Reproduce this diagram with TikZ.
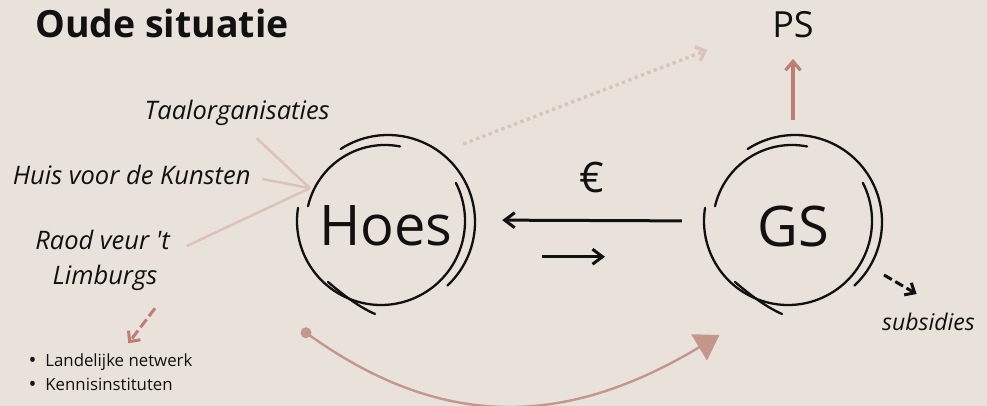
\documentclass[tikz,border=0pt]{standalone}
\usepackage{fontspec}
\setmainfont{Open Sans}
\usetikzlibrary{arrows.meta}
\definecolor{bgc}{HTML}{E9E2DB}
\definecolor{paleline}{HTML}{DCC3BA}
\definecolor{rose}{HTML}{BD7E75}
\definecolor{curvec}{HTML}{C4978D}
\definecolor{ink}{HTML}{111111}
\newcommand{\listdot}{\makebox[16.7pt][l]{\raisebox{-1.2pt}{\fontsize{21}{20}\selectfont •}}}
\tikzset{
  ringline/.style={line width=2.3pt, draw=ink, line cap=round},
  handring/.pic={
    \draw[ringline] ([shift={(123:87pt)}]2,0) arc[start angle=123,end angle=-47,radius=87pt];
    \draw[ringline] ([shift={(27:84pt)}]-5,1) arc[start angle=27,end angle=-189,radius=84pt];
    \draw[ringline] ([shift={(167:79pt)}]-1,-2) arc[start angle=167,end angle=79,radius=79pt];
    \draw[ringline] (-58,-60) .. controls (-45,-71) and (-29,-84) .. (-11,-92);
  },
  bigword/.style={circle, minimum size=166pt, inner sep=0pt, text height=46pt, text depth=0pt,
    font=\fontsize{56}{60}\selectfont, text=ink},
  label/.style={inner sep=0pt, anchor=base, text=ink},
  itlabel/.style={label, font=\itshape\fontsize{25.5}{30}\selectfont},
  feeder/.style={draw=paleline, line width=2.5pt},
  blackarrow/.style={draw=ink, line width=3pt, -{Straight Barb[length=10pt,width=15pt]}},
}
\begin{document}
\begin{tikzpicture}[x=1pt,y=1pt]
  \fill[bgc] (0,0) rectangle (987,-406);
  \useasboundingbox (0,0) rectangle (987,-406);

  % title
  \node[inner sep=0pt, anchor=base west, text=ink, font=\bfseries\fontsize{37.5}{42}\selectfont] (title) at (35,-37.5) {Oude situatie};

  % rings
  \pic at (386,-222) {handring};
  \pic at (793,-222) {handring};
  \node[bigword] (hoes) at (386,-222) {Hoes};
  \node[bigword] (gs) at (793,-223) {GS};

  % left labels
  \node[itlabel] (taal) at (237.2,-120) {Taalorganisaties};
  \node[itlabel] (huis) at (131.7,-185) {Huis voor de Kunsten};
  \node[itlabel] (raod) at (102.5,-249.5) {Raod veur \textquotesingle t};
  \node[itlabel] (limb) at (105,-284.5) {Limburgs};

  \coordinate (t1) at (256.7,-138.3);
  \coordinate (t2) at (262.3,-179);
  \coordinate (t3) at (186.7,-246);
  \draw[feeder] (t1) -- (hoes.156);
  \draw[feeder] (t2) -- (hoes.156);
  \draw[feeder] (t3) -- (hoes.156);

  % dashed arrow to the list
  \coordinate (r1) at (155,-308.3);
  \coordinate (r2) at (128.3,-343.3);
  \draw[draw=rose, line width=3pt, dash pattern=on 10pt off 4pt,
        -{Straight Barb[length=8pt,width=15pt]}] (r1) -- (r2);

  \node[inner sep=0pt, anchor=base west, text=ink, font=\fontsize{16.8}{20}\selectfont] (b1) at (28.5,-366.7) {\listdot Landelijke netwerk};
  \node[inner sep=0pt, anchor=base west, text=ink, font=\fontsize{16.8}{20}\selectfont] (b2) at (28.5,-390) {\listdot Kennisinstituten};

  % PS
  \node[label, font=\fontsize{36}{40}\selectfont] (ps) at (793,-37.3) {PS};
  \draw[draw=rose, line width=3.2pt, shorten <=20pt, shorten >=21pt,
        -{Straight Barb[length=9pt,width=15pt]}] (gs.north) -- (ps.south);

  % dotted arrow
  \coordinate (d1) at (463.3,-144);
  \coordinate (d2) at (707.3,-50);
  \draw[draw=paleline, line width=3.4pt, dash pattern=on 3.4pt off 3.4pt,
        -{Straight Barb[length=8pt,width=15pt]}] (d1) -- (d2);

  % money arrows
  \node[label, font=\fontsize{42}{46}\selectfont] (euro) at (592.3,-193) {€};
  \draw[blackarrow, shorten <=28pt, shorten >=33pt] ([yshift=2pt]gs.west) -- ([yshift=2pt]hoes.east);
  \coordinate (m1) at (541.7,-256.7);
  \coordinate (m2) at (605,-256.7);
  \draw[blackarrow] (m1) -- (m2);

  % subsidies
  \coordinate (s1) at (884,-275);
  \coordinate (s2) at (916.6,-294);
  \draw[draw=ink, line width=3pt, dash pattern=on 9pt off 4pt,
        -{Straight Barb[length=8pt,width=14pt]}] (s1) -- (s2);
  \node[inner sep=0pt, anchor=base west, text=ink, font=\itshape\fontsize{23}{26}\selectfont] (subs) at (882,-330) {subsidies};

  % bottom curved arrow
  \coordinate (dot) at (306,-332.7);
  \coordinate (ctip) at (719.6,-335);
  \fill[curvec] (dot) circle (5.5pt);
  \draw[draw=curvec, line width=2.4pt, -{Triangle[length=24pt,width=30pt]}]
    (dot) to[out=-36, in=211, looseness=1.07] (ctip);
\end{tikzpicture}
\end{document}
